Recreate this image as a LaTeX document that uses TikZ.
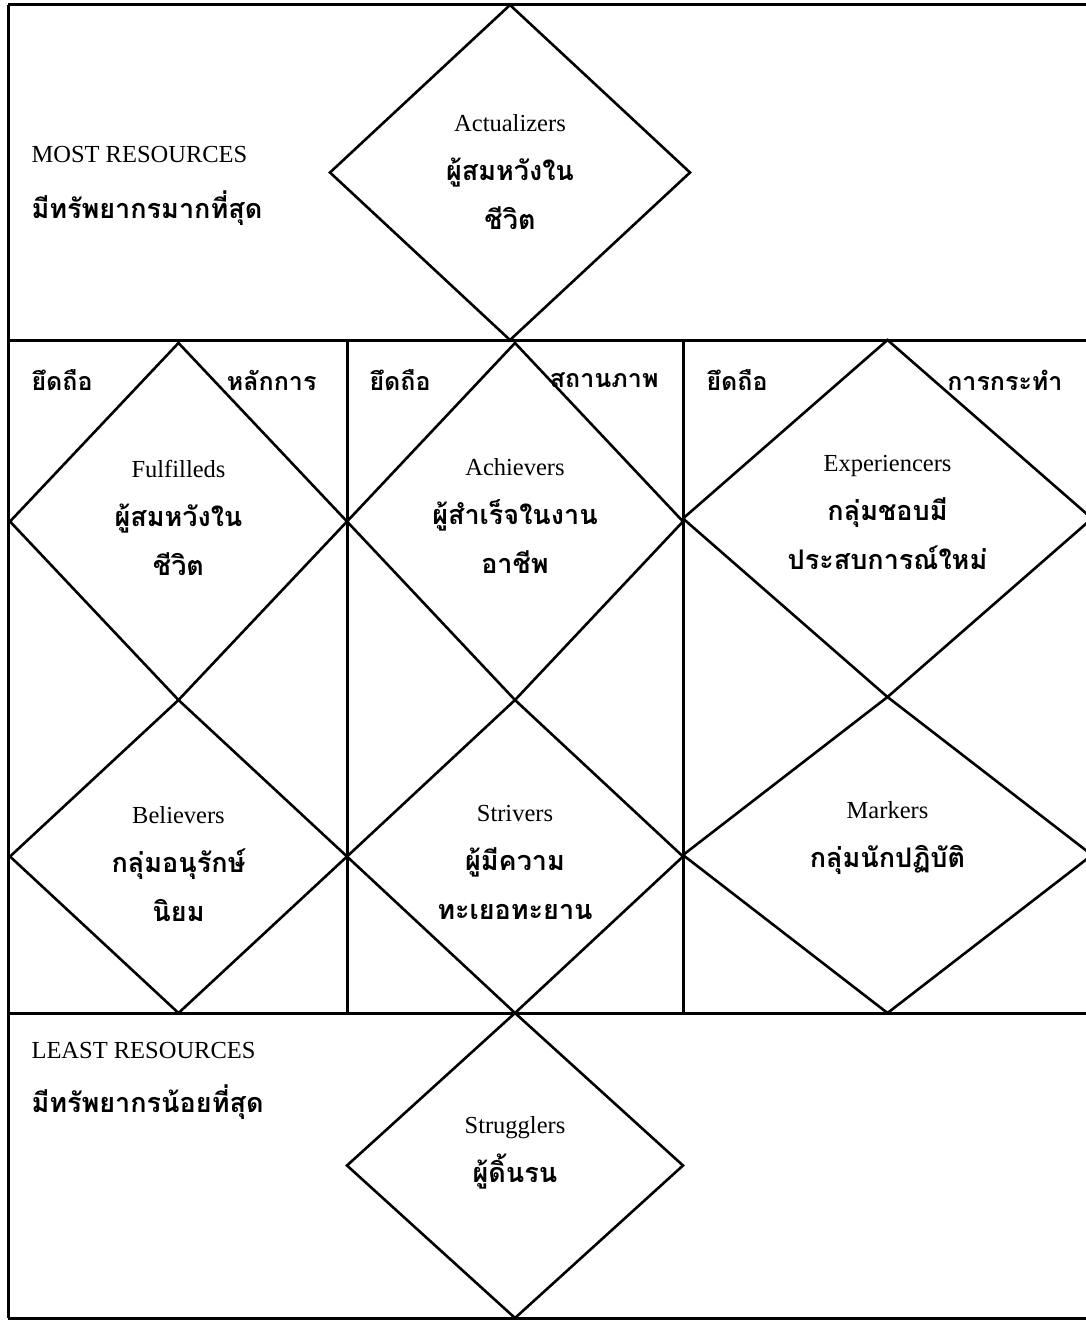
\documentclass[tikz,border=0pt]{standalone}
\usepackage{fontspec}
\setmainfont{Liberation Serif}
\newfontfamily\thaifont[Script=Thai]{Loma}
\usepackage{tikz}
\usetikzlibrary{shapes.geometric}
\usetikzlibrary{positioning}

\newcommand{\thtxt}[1]{{\fontsize{27}{49}\thaifont\bfseries #1}}

\begin{document}
\begin{tikzpicture}[x=1pt,y=-1pt,
	frame/.style={line width=3pt},
	vals/.style={draw,diamond,line width=2.6pt,inner sep=0pt,outer sep=0pt},
	seg/.style={align=center,font=\fontsize{24.5}{49}\selectfont},
	side/.style={anchor=west,font=\fontsize{24.5}{30}\selectfont},
	holds/.style={font=\fontsize{25}{30}\thaifont\bfseries}]
		\useasboundingbox (0,0) rectangle (1086,1322);
		% frame
		\draw[frame] (8,5) -- (1086,5);
		\draw[frame] (8,340) -- (1086,340);
		\draw[frame] (8,1013) -- (1086,1013);
		\draw[frame] (8,1318) -- (1086,1318);
		\draw[frame] (8,5) -- (8,1318);
		\draw[frame] (347,340) -- (347,1013);
		\draw[frame] (683,340) -- (683,1013);

		% diamonds
		\node[vals,minimum width=360,minimum height=335] (actu) at (510,172.5) {};
		\node[vals,minimum width=337,minimum height=357] (fulf) at (178.5,521.5) {};
		\node[vals,minimum width=336,minimum height=357] (achi) at (515,521.5) {};
		\node[vals,minimum width=409,minimum height=357] (expe) at (887.5,518.5) {};
		\node[vals,minimum width=337,minimum height=313] (beli) at (178.5,856.5) {};
		\node[vals,minimum width=336,minimum height=313] (stri) at (515,856.5) {};
		\node[vals,minimum width=409,minimum height=316] (mark) at (887.5,855) {};
		\node[vals,minimum width=336,minimum height=305] (strg) at (515,1165.5) {};

		% segment names
		\node[seg] (actut) at (actu.center) {Actualizers\\ \thtxt{ผู้สมหวังใน}\\ \thtxt{ชีวิต}};
		\node[seg] (fulft) at ([yshift=4]fulf.center) {Fulfilleds\\ \thtxt{ผู้สมหวังใน}\\ \thtxt{ชีวิต}};
		\node[seg] (achit) at ([yshift=6]achi.center) {Achievers\\ \thtxt{ผู้สำเร็จในงาน}\\ \thtxt{อาชีพ}};
		\node[seg] (expet) at ([yshift=6]expe.center) {Experiencers\\ \thtxt{กลุ่มชอบมี}\\ \thtxt{ประสบการณ์ใหม่}};
		\node[seg] (belit) at ([yshift=-8]beli.center) {Believers\\ \thtxt{กลุ่มอนุรักษ์}\\ \thtxt{นิยม}};
		\node[seg] (strit) at ([yshift=-6]stri.center) {Strivers\\ \thtxt{ผู้มีความ}\\ \thtxt{ทะเยอทะยาน}};
		\node[seg] (markt) at ([yshift=17]mark.center) {Markers\\ \thtxt{กลุ่มนักปฏิบัติ}};
		\node[seg] (strgt) at ([yshift=13]strg.center) {Strugglers\\ \thtxt{ผู้ดิ้นรน}};

		% resources
		\node[side] (most) at (28,155) {MOST RESOURCES};
		\node[side] (mostth) at (28,208) {\thtxt{มีทรัพยากรมากที่สุด}};
		\node[side] (least) at (28,1050) {LEAST RESOURCES};
		\node[side] (leastth) at (28,1102) {\thtxt{มีทรัพยากรน้อยที่สุด}};

		% orientation
		\node[holds,anchor=west] (hold1) at (28,380) {ยึดถือ};
		\node[holds,anchor=east] (prin) at (320,380) {หลักการ};
		\node[holds,anchor=west] (hold2) at (366,380) {ยึดถือ};
		\node[holds,anchor=east] (stat) at (662,380) {สถานภาพ};
		\node[holds,anchor=west] (hold3) at (703,380) {ยึดถือ};
		\node[holds,anchor=east] (acti) at (1066,380) {การกระทำ};
\end{tikzpicture}
\end{document}
